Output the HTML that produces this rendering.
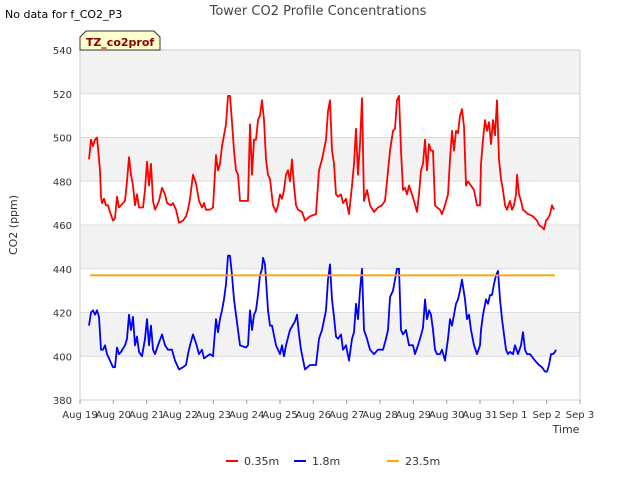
<!DOCTYPE html>
<html><head><meta charset="utf-8"><style>
body{margin:0;background:#fff;font-family:"Liberation Sans","DejaVu Sans",sans-serif}
svg text{font-family:"DejaVu Sans","Liberation Sans",sans-serif}
</style></head><body>
<svg id="chart" width="640" height="480" xmlns="http://www.w3.org/2000/svg">
<text x="5" y="18" font-size="11" fill="#000">No data for f_CO2_P3</text>
<text x="318" y="15" font-size="13" fill="#444" text-anchor="middle">Tower CO2 Profile Concentrations</text>
<g id="plot"></g>
<g>
<path d="M80,50 L80,37 L86,31 L154,31 L160,37 L160,50 Z" fill="#ffffcc" stroke="#333" stroke-width="1"/>
<text x="120" y="46" font-size="11" font-weight="bold" fill="#8b0000" text-anchor="middle">TZ_co2prof</text>
</g>
<text transform="translate(17,225) rotate(-90)" font-size="11" fill="#333" text-anchor="middle">CO2 (ppm)</text>
<text x="566" y="433" font-size="11" fill="#333" text-anchor="middle">Time</text>
<g>
<line x1="226" y1="461" x2="238" y2="461" stroke="#ff0000" stroke-width="2"/><text x="244" y="465" font-size="11" fill="#333">0.35m</text>
<line x1="294" y1="461" x2="306" y2="461" stroke="#0000ff" stroke-width="2"/><text x="312" y="465" font-size="11" fill="#333">1.8m</text>
<line x1="387" y1="461" x2="399" y2="461" stroke="#ffa500" stroke-width="2"/><text x="405" y="465" font-size="11" fill="#333">23.5m</text>
</g>
</svg>
<script>
const xTickLabels=["Aug 19","Aug 20","Aug 21","Aug 22","Aug 23","Aug 24","Aug 25","Aug 26","Aug 27","Aug 28","Aug 29","Aug 30","Aug 31","Sep 1","Sep 2","Sep 3"];
const yTicks=[380,400,420,440,460,480,500,520,540];
const redT=[0.27,0.33,0.39,0.45,0.51,0.60,0.63,0.66,0.72,0.78,0.84,0.90,0.99,1.05,1.11,1.17,1.23,1.35,1.41,1.47,1.53,1.59,1.65,1.71,1.77,1.89,1.95,2.01,2.07,2.13,2.19,2.25,2.37,2.46,2.55,2.61,2.73,2.79,2.88,2.97,3.09,3.18,3.24,3.30,3.39,3.48,3.57,3.66,3.72,3.78,3.90,3.99,4.08,4.14,4.20,4.26,4.32,4.38,4.44,4.50,4.56,4.62,4.68,4.74,4.80,4.98,5.04,5.10,5.16,5.22,5.28,5.34,5.40,5.46,5.52,5.58,5.64,5.70,5.79,5.88,5.94,6.00,6.06,6.12,6.18,6.24,6.30,6.36,6.42,6.48,6.54,6.66,6.75,6.90,7.08,7.17,7.26,7.38,7.44,7.50,7.56,7.62,7.68,7.74,7.83,7.89,7.98,8.07,8.16,8.22,8.28,8.34,8.40,8.46,8.52,8.61,8.70,8.82,8.94,9.06,9.15,9.21,9.30,9.39,9.45,9.51,9.57,9.63,9.69,9.75,9.81,9.87,9.96,10.02,10.11,10.17,10.23,10.29,10.35,10.41,10.47,10.53,10.59,10.65,10.71,10.80,10.86,10.95,11.04,11.10,11.16,11.22,11.28,11.34,11.40,11.46,11.52,11.58,11.64,11.73,11.82,11.91,12.00,12.03,12.09,12.15,12.21,12.27,12.33,12.39,12.45,12.51,12.57,12.63,12.69,12.75,12.81,12.90,12.96,13.02,13.08,13.11,13.17,13.23,13.29,13.44,13.59,13.71,13.77,13.86,13.92,13.98,14.04,14.10,14.16,14.22];
const redV=[490,499,496,499,500,485,473,470,472,469,469,466,462,463,473,468,469,471,480,491,483,478,469,474,468,468,476,489,478,488,471,467,471,477,474,470,469,470,467,461,462,464,467,472,483,479,471,468,470,467,467,468,492,485,488,496,501,506,519,519,507,494,485,483,471,471,471,506,483,499,499,508,510,517,508,490,483,481,469,466,469,474,472,476,483,485,480,490,478,469,467,466,462,464,465,485,490,499,512,517,494,488,474,473,474,470,472,465,478,488,504,483,497,518,471,476,469,466,468,469,471,480,494,503,504,517,519,494,476,477,474,478,474,471,466,474,485,488,499,485,497,494,494,469,468,467,465,469,474,490,503,494,503,502,510,513,505,478,480,478,476,469,469,488,499,508,503,507,497,508,501,517,490,481,476,469,467,471,467,469,474,483,474,471,467,465,464,462,460,459,458,462,463,465,469,467];
const blueT=[0.27,0.33,0.39,0.45,0.51,0.57,0.63,0.69,0.75,0.81,0.90,0.99,1.05,1.11,1.17,1.23,1.35,1.41,1.47,1.53,1.59,1.65,1.71,1.77,1.86,1.95,2.01,2.07,2.13,2.19,2.25,2.34,2.46,2.55,2.64,2.76,2.85,2.97,3.09,3.18,3.24,3.30,3.39,3.48,3.57,3.66,3.72,3.90,3.99,4.08,4.14,4.20,4.26,4.32,4.38,4.44,4.50,4.56,4.62,4.68,4.80,4.98,5.04,5.10,5.16,5.22,5.28,5.34,5.40,5.46,5.49,5.55,5.64,5.70,5.76,5.88,6.00,6.06,6.12,6.18,6.30,6.45,6.51,6.57,6.63,6.75,6.90,7.08,7.17,7.26,7.38,7.44,7.50,7.56,7.62,7.68,7.74,7.83,7.89,7.98,8.07,8.16,8.22,8.28,8.34,8.40,8.46,8.52,8.61,8.70,8.82,8.94,9.09,9.18,9.24,9.30,9.39,9.45,9.51,9.57,9.63,9.69,9.78,9.87,9.99,10.05,10.14,10.20,10.29,10.35,10.41,10.47,10.53,10.59,10.65,10.71,10.80,10.86,10.95,11.04,11.10,11.16,11.22,11.28,11.34,11.40,11.46,11.55,11.61,11.67,11.73,11.82,11.91,12.00,12.03,12.09,12.18,12.24,12.30,12.36,12.42,12.48,12.54,12.60,12.66,12.72,12.78,12.84,12.90,12.99,13.05,13.14,13.23,13.29,13.35,13.41,13.50,13.65,13.77,13.86,13.95,14.01,14.07,14.13,14.19,14.25,14.28];
const blueV=[414,420,421,419,421,418,403,403,405,401,398,395,395,404,401,402,405,408,419,412,418,405,409,402,400,408,417,405,414,403,401,405,410,405,403,403,398,394,395,396,401,405,410,406,401,403,399,401,400,417,411,417,421,426,433,446,446,437,426,419,405,404,405,421,412,419,421,428,437,440,445,442,421,414,414,405,401,405,400,405,412,416,419,410,403,394,396,396,408,412,421,435,442,426,418,409,408,410,403,405,398,408,411,424,417,430,440,412,408,403,401,403,403,408,412,427,430,435,440,440,412,410,412,405,405,401,405,408,413,426,417,421,419,412,403,401,401,403,398,408,417,414,419,424,426,430,435,426,417,419,412,405,401,405,412,419,426,424,428,428,433,437,439,426,417,410,403,401,402,401,405,401,405,411,403,401,401,398,396,395,393,393,396,401,401,402,403];
const orangeT=[0.3,14.25];
const orangeV=[437,437];

const NS="http://www.w3.org/2000/svg";
const L=80,R=580,T=50,B=400,yMin=380,yMax=540,dMax=15;
const xs=d=>L+(R-L)*d/dMax;
const ys=v=>B-(B-T)*(v-yMin)/(yMax-yMin);
const plot=document.getElementById('plot');
function mk(tag,attrs){const e=document.createElementNS(NS,tag);for(const k in attrs)e.setAttribute(k,attrs[k]);plot.appendChild(e);return e;}
// bands
for(let i=0;i<yTicks.length-1;i++){
  const lo=yTicks[i],hi=yTicks[i+1];
  const band=mk('rect',{x:L,y:ys(hi),width:R-L,height:ys(lo)-ys(hi),fill:(i%2===1)?'#f2f2f2':'#ffffff'});
  
  
}
yTicks.forEach(v=>{
  const g=mk('line',{x1:L,x2:R,y1:ys(v),y2:ys(v),stroke:'#dddddd','stroke-width':1});
  
  
  const t=mk('text',{x:L-8,y:ys(v)+4,'font-size':10,fill:'#333','text-anchor':'end'});
  t.textContent=v;
  
  
});
const frame=mk('rect',{x:L,y:T,width:R-L,height:B-T,fill:'none',stroke:'#cccccc','stroke-width':1});


xTickLabels.forEach((s,i)=>{
  const tk=mk('line',{x1:xs(i),x2:xs(i),y1:B,y2:B+4,stroke:'#999'});
  
  
  const t=mk('text',{x:xs(i),y:B+18,'font-size':10,fill:'#333','text-anchor':'middle'});
  t.textContent=s;
  
  
});
function series(tArr,vArr,color,name){
  const p=mk('polyline',{points:tArr.map((t,i)=>xs(t).toFixed(1)+','+ys(vArr[i]).toFixed(1)).join(' '),fill:'none',stroke:color,'stroke-width':1.8,'stroke-linejoin':'round'});
  
  
}
series(redT,redV,'#ff0000','series-0.35m');
series(blueT,blueV,'#0000ff','series-1.8m');
series(orangeT,orangeV,'#ffa500','series-23.5m');
</script>
</body></html>
